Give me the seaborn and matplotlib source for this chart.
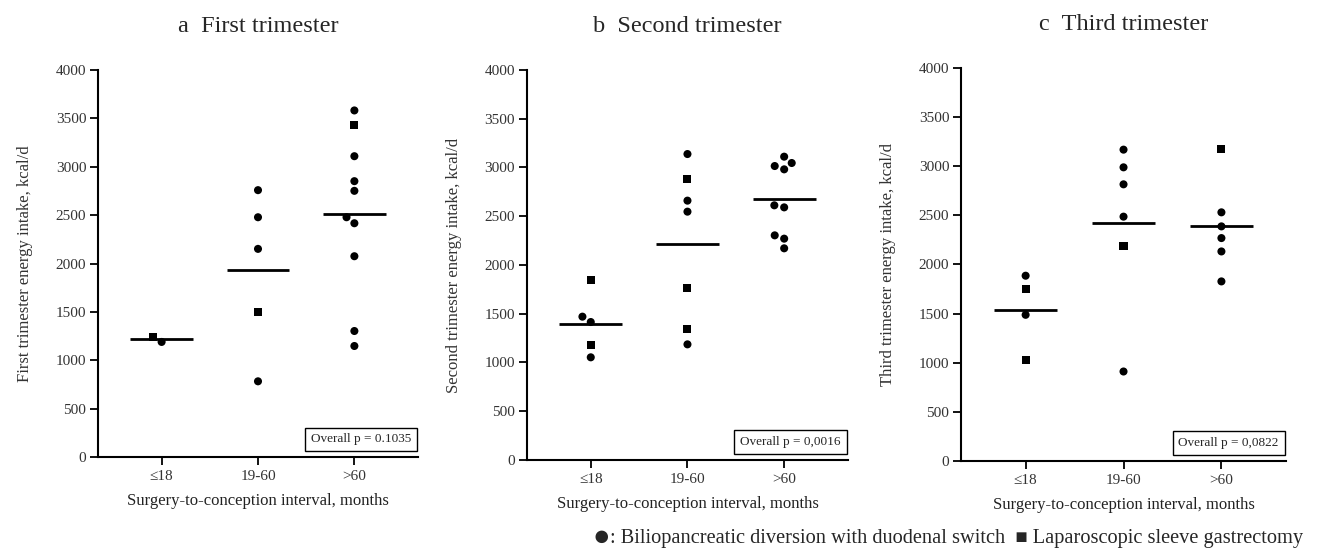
import numpy as np
import pandas as pd
import matplotlib
matplotlib.use("Agg")
import matplotlib.pyplot as plt
from matplotlib.markers import MarkerStyle
import seaborn as sns

# surgery-to-conception interval groups
categories = ["≤18", "19-60", ">60"]

# D = biliopancreatic diversion with duodenal switch, S = sleeve gastrectomy
first_interval = ["≤18", "≤18",
                  "19-60", "19-60", "19-60", "19-60", "19-60",
                  ">60", ">60", ">60", ">60", ">60", ">60", ">60", ">60", ">60", ">60"]
first_kcal = [1190, 1241,
              2759, 2479, 2152, 1503, 783,
              3583, 3428, 3110, 2852, 2752, 2479, 2417, 2076, 1303, 1148]
first_type = ["D", "S",
              "D", "D", "D", "S", "D",
              "D", "S", "D", "D", "D", "D", "D", "D", "D", "D"]

second_interval = ["≤18", "≤18", "≤18", "≤18", "≤18",
                   "19-60", "19-60", "19-60", "19-60", "19-60", "19-60", "19-60",
                   ">60", ">60", ">60", ">60", ">60", ">60", ">60", ">60", ">60"]
second_kcal = [1846, 1470, 1415, 1179, 1053,
               3138, 2882, 2660, 2547, 1761, 1344, 1186,
               3111, 3046, 3015, 2981, 2612, 2591, 2304, 2270, 2171]
second_type = ["S", "D", "D", "S", "D",
               "D", "S", "D", "D", "S", "S", "D",
               "D", "D", "D", "D", "D", "D", "D", "D", "D"]

third_interval = ["≤18", "≤18", "≤18", "≤18",
                  "19-60", "19-60", "19-60", "19-60", "19-60", "19-60",
                  ">60", ">60", ">60", ">60", ">60", ">60"]
third_kcal = [1885, 1749, 1487, 1029,
              3168, 2988, 2815, 2486, 2190, 910,
              3175, 2530, 2387, 2268, 2132, 1827]
third_type = ["D", "S", "D", "S",
              "D", "D", "D", "D", "S", "D",
              "S", "D", "D", "D", "D", "D"]

titles = ["a  First trimester", "b  Second trimester", "c  Third trimester"]
ylabels = ["First trimester energy intake, kcal/d",
           "Second trimester energy intake, kcal/d",
           "Third trimester energy intake, kcal/d"]
pvalues = ["Overall p = 0.1035", "Overall p = 0,0016", "Overall p = 0,0822"]

sns.set_style("ticks")
plt.rcParams["font.family"] = ["Liberation Serif", "DejaVu Serif"]

fig = plt.figure(figsize=(13.19, 5.52), dpi=100)
boxes = [[0.0743, 0.172, 0.2426, 0.701],
         [0.3995, 0.1667, 0.2434, 0.7065],
         [0.7286, 0.165, 0.2464, 0.712]]

panels = [(first_interval, first_kcal, first_type),
          (second_interval, second_kcal, second_type),
          (third_interval, third_kcal, third_type)]

mk_o = MarkerStyle("o")
path_o = mk_o.get_path().transformed(mk_o.get_transform())
mk_s = MarkerStyle("s")
path_s = mk_s.get_path().transformed(mk_s.get_transform())

axes = []
for i, (interval, kcal, stype) in enumerate(panels):
    ax = fig.add_axes(boxes[i])
    axes.append(ax)
    df = pd.DataFrame({"interval": interval, "kcal": kcal, "type": stype})
    # invisible edge -> a bit more room between neighbouring points in the swarm
    sns.swarmplot(data=df, x="interval", y="kcal", hue="type", order=categories,
                  palette={"D": "black", "S": "black"}, size=5.8, linewidth=1.1,
                  legend=False, ax=ax)
    # give the sleeve gastrectomy points a square marker
    for j, col in enumerate(ax.collections):
        sub = df[df["interval"] == categories[j]]
        lookup = dict(zip(sub["kcal"], sub["type"]))
        ys = col.get_offsets()[:, 1]
        col.set_paths([path_s if lookup.get(int(round(y))) == "S" else path_o for y in ys])
        col.set_edgecolor("none")
    # mean line
    sns.boxplot(data=df, x="interval", y="kcal", order=categories, width=0.65,
                showbox=False, showcaps=False, showfliers=False,
                whiskerprops={"visible": False}, medianprops={"visible": False},
                showmeans=True, meanline=True,
                meanprops={"color": "black", "linestyle": "-", "linewidth": 2},
                ax=ax)
    ax.set_xlim(-0.66, 2.66)
    ax.set_ylim(0, 4000)
    ax.set_yticks(np.arange(0, 4001, 500))
    sns.despine(ax=ax)
    for s in ["left", "bottom"]:
        ax.spines[s].set_linewidth(1.5)
        ax.spines[s].set_color("black")
    ax.tick_params(axis="both", length=5.5, width=1.3, color="black",
                   labelsize=11, labelcolor="#333333", pad=3)
    ax.tick_params(axis="x", pad=4)
    ax.set_xlabel("Surgery-to-conception interval, months", fontsize=12,
                  labelpad=7, color="#222222")
    ax.set_ylabel(ylabels[i], fontsize=12, labelpad=16, color="#333333")
    ax.set_title(titles[i], fontsize=17.5, pad=27.5)
    ax.text(0.978, 0.03, pvalues[i], transform=ax.transAxes, ha="right", va="bottom",
            fontsize=9.5, bbox=dict(boxstyle="square,pad=0.45", fc="white", ec="black", lw=1))

# legend line under the panels
dot = fig.text(0.449, 0.025, "●", ha="left", va="center", fontsize=21)
axes[0].annotate(": Biliopancreatic diversion with duodenal switch  ■ Laparoscopic sleeve gastrectomy",
                 xy=(1, 0.5), xycoords=dot, ha="left", va="center", fontsize=14.7,
                 annotation_clip=False)

fig.savefig("out.png", dpi=100)
